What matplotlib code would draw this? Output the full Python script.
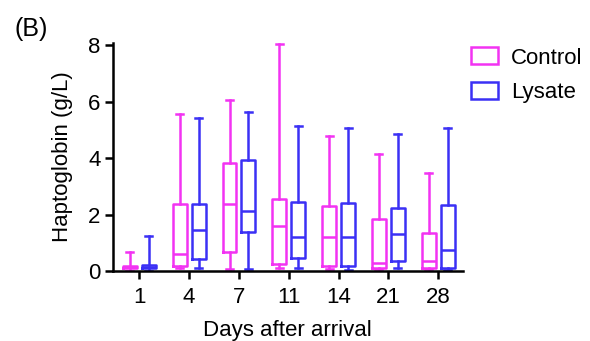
import matplotlib
matplotlib.use("Agg")
import matplotlib.pyplot as plt
from matplotlib.patches import Patch

plt.rcParams['font.family'] = ['Liberation Sans', 'DejaVu Sans']

days = ['1', '4', '7', '11', '14', '21', '28']

# five-number summaries: min, q1, median, q3, max
control_min = [0.0, 0.10, 0.08, 0.10, 0.08, 0.08, 0.08]
control_q1 = [0.10, 0.18, 0.67, 0.27, 0.20, 0.12, 0.12]
control_med = [0.15, 0.60, 2.40, 1.60, 1.20, 0.28, 0.38]
control_q3 = [0.20, 2.37, 3.85, 2.57, 2.31, 1.85, 1.37]
control_max = [0.68, 5.56, 6.08, 8.04, 4.80, 4.15, 3.47]

lysate_min = [0.0, 0.12, 0.08, 0.10, 0.05, 0.10, 0.05]
lysate_q1 = [0.10, 0.44, 1.38, 0.47, 0.20, 0.36, 0.13]
lysate_med = [0.15, 1.47, 2.12, 1.23, 1.20, 1.33, 0.77]
lysate_q3 = [0.21, 2.37, 3.96, 2.47, 2.42, 2.23, 2.34]
lysate_max = [1.25, 5.44, 5.64, 5.14, 5.07, 4.88, 5.08]

ctrl_color = '#F233F2'
lys_color = '#3B30F5'
LW = 1.8
FS = 16


def make_stats(mins, q1s, meds, q3s, maxs):
    return [dict(whislo=a, q1=b, med=c, q3=d, whishi=e, fliers=[])
            for a, b, c, d, e in zip(mins, q1s, meds, q3s, maxs)]


def draw(ax, stats, positions, color):
    ax.bxp(stats, positions=positions, widths=0.28, showfliers=False,
           boxprops=dict(color=color, linewidth=LW),
           medianprops=dict(color=color, linewidth=LW),
           whiskerprops=dict(color=color, linewidth=LW),
           capprops=dict(color=color, linewidth=LW),
           capwidths=0.14, manage_ticks=False)


fig = plt.figure(figsize=(5.9, 3.41), dpi=100)
ax = fig.add_axes([0.1915, 0.2044, 0.5925, 0.6706])

x = list(range(len(days)))
off = 0.19
draw(ax, make_stats(control_min, control_q1, control_med, control_q3, control_max),
     [i - off for i in x], ctrl_color)
draw(ax, make_stats(lysate_min, lysate_q1, lysate_med, lysate_q3, lysate_max),
     [i + off for i in x], lys_color)

ax.set_xlim(-0.53, 6.49)
ax.set_ylim(0, 8.1)
ax.set_xticks(x)
ax.set_xticklabels(days)
ax.set_yticks([0, 2, 4, 6, 8])
ax.spines['top'].set_visible(False)
ax.spines['right'].set_visible(False)
for s in ['left', 'bottom']:
    ax.spines[s].set_linewidth(LW)
ax.tick_params(width=LW, length=6, labelsize=FS, pad=3)
ax.tick_params(axis='x', pad=5)
ax.set_xlabel('Days after arrival', fontsize=FS, labelpad=9)
ax.set_ylabel('Haptoglobin (g/L)', fontsize=FS, labelpad=11)

handles = [Patch(facecolor='white', edgecolor=ctrl_color, linewidth=LW, label='Control'),
           Patch(facecolor='white', edgecolor=lys_color, linewidth=LW, label='Lysate')]
fig.legend(handles=handles, loc='upper left', bbox_to_anchor=(0.765, 0.92),
           frameon=False, fontsize=FS, handlelength=1.2, handleheight=0.8,
           handletextpad=0.6, labelspacing=0.6)

fig.text(0.024, 0.895, '(B)', fontsize=18)

fig.savefig('out.png', dpi=100)
